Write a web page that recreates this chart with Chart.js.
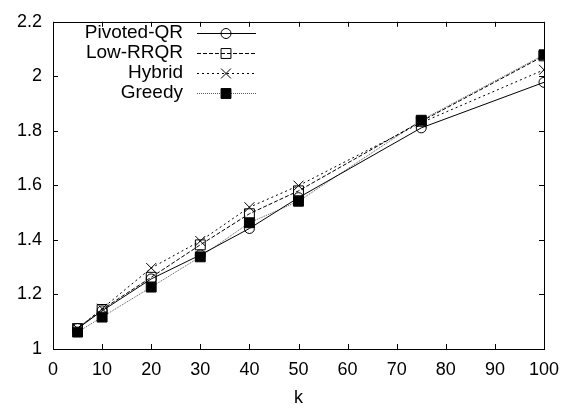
<!DOCTYPE html>
<html>
<head>
<meta charset="utf-8">
<script src="https://cdn.jsdelivr.net/npm/chart.js@4/dist/chart.umd.min.js"></script>
<style>
  html, body { margin: 0; padding: 0; background: #fff; }
  #wrap { width: 570px; height: 409px; }
</style>
</head>
<body>
<div id="wrap"><canvas id="myChart" width="570" height="409"></canvas></div>
<script>
var kValues = [5, 10, 20, 30, 40, 50, 75, 100];
var pivotedQR = [1.075, 1.14, 1.257, 1.345, 1.442, 1.555, 1.811, 1.978];
var lowRRQR = [1.075, 1.145, 1.263, 1.382, 1.496, 1.58, 1.835, 2.075];
var hybrid = [1.075, 1.148, 1.297, 1.396, 1.52, 1.599, 1.83, 2.024];
var greedy = [1.062, 1.117, 1.227, 1.338, 1.463, 1.542, 1.839, 2.079];
var xTicks = [0, 10, 20, 30, 40, 50, 60, 70, 80, 90, 100];
var yTicks = [1, 1.2, 1.4, 1.6, 1.8, 2, 2.2];

var FONT = '"Liberation Sans", Arial, sans-serif';
var NOFILL = 'rgba(255,255,255,0)';

function pts(arr) {
    return arr.map(function(v, i) { return { x: kValues[i], y: v }; });
}

// gnuplot style: inward ticks on all four sides + legend with sample on right
var gnuplotFrame = {
    id: 'gnuplotFrame',
    afterDatasetsDraw: function(chart) {
        var ctx = chart.ctx, a = chart.chartArea;
        var xs = chart.scales.x, ys = chart.scales.y;
        ctx.save();
        ctx.strokeStyle = '#000';
        ctx.lineWidth = 1;
        ctx.setLineDash([]);
        ctx.beginPath();
        xTicks.forEach(function(t) {
            var px = Math.round(xs.getPixelForValue(t)) + 0.5;
            ctx.moveTo(px, a.bottom); ctx.lineTo(px, a.bottom - 5);
            ctx.moveTo(px, a.top); ctx.lineTo(px, a.top + 5);
        });
        yTicks.forEach(function(t) {
            var py = Math.round(ys.getPixelForValue(t)) + 0.5;
            ctx.moveTo(a.left, py); ctx.lineTo(a.left + 5, py);
            ctx.moveTo(a.right, py); ctx.lineTo(a.right - 5, py);
        });
        ctx.stroke();
        ctx.strokeRect(Math.round(a.left) + 0.5, Math.round(a.top) + 0.5,
            Math.round(a.right - a.left), Math.round(a.bottom - a.top));

        // legend
        ctx.font = '19px ' + FONT;
        ctx.textAlign = 'right';
        ctx.textBaseline = 'middle';
        chart.data.datasets.forEach(function(ds, i) {
            var y = 33 + i * 20;
            ctx.fillStyle = '#000';
            ctx.fillText(ds.label, 183, y);
            ctx.strokeStyle = ds.borderColor;
            ctx.lineWidth = 1;
            ctx.setLineDash(ds.borderDash || []);
            ctx.beginPath();
            ctx.moveTo(197, y + 0.5); ctx.lineTo(256, y + 0.5);
            ctx.stroke();
            ctx.setLineDash([]);
            ctx.fillStyle = ds.pointBackgroundColor;
            ctx.strokeStyle = ds.pointBorderColor;
            Chart.helpers.drawPoint(ctx, {
                pointStyle: ds.pointStyle,
                radius: ds.pointRadius,
                borderWidth: 1
            }, 226, y + 0.5);
        });
        ctx.restore();
    }
};

var ctx = document.getElementById('myChart').getContext('2d');
var chart = new Chart(ctx, {
    type: 'line',
    data: {
        datasets: [{
            label: 'Pivoted-QR',
            data: pts(pivotedQR),
            borderColor: '#000',
            borderWidth: 1,
            pointStyle: 'circle',
            pointRadius: 5,
            pointBackgroundColor: NOFILL,
            pointBorderColor: '#000',
            pointBorderWidth: 1
        }, {
            label: 'Low-RRQR',
            data: pts(lowRRQR),
            borderColor: '#000',
            borderWidth: 1,
            borderDash: [4, 2],
            pointStyle: 'rect',
            pointRadius: 7,
            pointBackgroundColor: NOFILL,
            pointBorderColor: '#000',
            pointBorderWidth: 1
        }, {
            label: 'Hybrid',
            data: pts(hybrid),
            borderColor: '#000',
            borderWidth: 1,
            borderDash: [2, 3],
            pointStyle: 'crossRot',
            pointRadius: 7,
            pointBackgroundColor: NOFILL,
            pointBorderColor: '#000',
            pointBorderWidth: 1
        }, {
            label: 'Greedy',
            data: pts(greedy),
            borderColor: '#555',
            borderWidth: 1,
            borderDash: [1, 1],
            pointStyle: 'rect',
            pointRadius: 7,
            pointBackgroundColor: '#000',
            pointBorderColor: '#000',
            pointBorderWidth: 1
        }]
    },
    plugins: [gnuplotFrame],
    options: {
        responsive: false,
        animation: false,
        layout: { padding: { top: 19, right: 26, left: 0, bottom: 0 } },
        plugins: { legend: { display: false }, tooltip: { enabled: false } },
        elements: { line: { tension: 0 } },
        scales: {
            x: {
                type: 'linear',
                min: 0, max: 100,
                afterBuildTicks: function(s) { s.ticks = xTicks.map(function(v) { return { value: v }; }); },
                afterFit: function(s) { s.height = 60; },
                grid: { display: false, drawTicks: false },
                border: { display: false },
                ticks: { color: '#000', font: { family: FONT, size: 18 }, padding: 10, maxRotation: 0 },
                title: { display: true, text: 'k', color: '#000', font: { family: FONT, size: 18 }, padding: { top: 0, bottom: 0 } }
            },
            y: {
                type: 'linear',
                min: 1, max: 2.2,
                afterBuildTicks: function(s) { s.ticks = yTicks.map(function(v) { return { value: v }; }); },
                afterFit: function(s) { s.width = 53; },
                grid: { display: false, drawTicks: false },
                border: { display: false },
                ticks: {
                    color: '#000', font: { family: FONT, size: 18 }, padding: 11,
                    callback: function(v) { return String(Math.round(v * 10) / 10); }
                }
            }
        }
    }
});
</script>
</body>
</html>
